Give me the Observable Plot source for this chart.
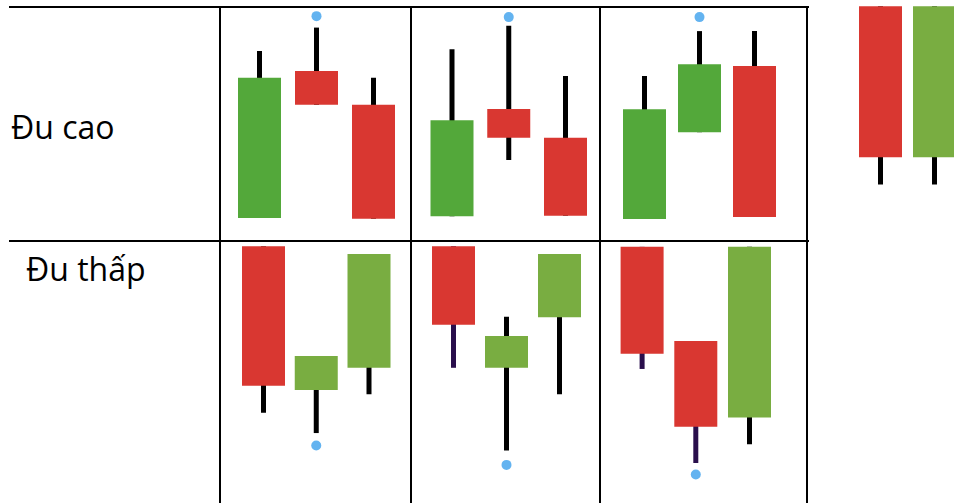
<!DOCTYPE html>
<html><head><meta charset="utf-8">
<script src="https://cdn.jsdelivr.net/npm/d3@7"></script>
<script src="https://cdn.jsdelivr.net/npm/@observablehq/plot@0.6"></script>
<style>
html,body{margin:0;padding:0;background:#fff;overflow:hidden;}
#page{position:relative;width:954px;height:503px;overflow:hidden;font-family:"Open Sans",sans-serif;}
.cell{position:absolute;}
.line{position:absolute;background:#000;}
.label{position:absolute;font-size:32px;line-height:32px;color:#000;white-space:nowrap;}
</style></head><body><div id="page"></div>
<script>
// ---------------- DATA ----------------
const rowLabels = ["Đu cao", "Đu thấp"];
const candles = [0, 1, 2];
// Đu cao: one inner array per pattern (3 patterns), 3 candles each (price units)
const caoOpen  = [[9.8, 72.6, 58.2], [10.6, 56.4, 44.1], [9.4, 46.5, 74.8]];
const caoClose = [[69.8, 58.2, 9.5], [51.6, 44.1, 10.8], [56.3, 75.5, 10.3]];
const caoHigh  = [[81.2, 91.2, 69.8], [81.9, 92.0, 70.5], [70.5, 89.7, 89.7]];
const caoLow   = [[9.8, 58.2, 9.5], [10.6, 34.6, 10.8], [9.4, 46.5, 10.3]];
const caoMarkCandle = [1, 1, 1];
const caoMarkValue  = [96.3, 95.9, 95.9];
// Đu thấp
const thapOpen  = [[109.8, 48.3, 57.8], [109.8, 57.8, 79.4], [109.5, 69.2, 36.5]];
const thapClose = [[50.1, 62.8, 106.4], [76.2, 71.4, 106.4], [63.8, 32.6, 109.5]];
const thapHigh  = [[109.8, 62.8, 106.4], [109.8, 79.6, 106.4], [109.5, 69.2, 109.5]];
const thapLow   = [[38.6, 29.9, 46.5], [57.8, 22.4, 46.5], [57.3, 17.1, 25.1]];
const thapMarkCandle = [1, 1, 1];
const thapMarkValue  = [24.8, 16.5, 12.4];
// side candles (right of the table)
const sideCandles = [0, 1];
const sideOpen  = [100.3, 35.8];
const sideClose = [35.8, 100.3];
const sideHigh  = [100.3, 100.3];
const sideLow   = [24.2, 24.2];

// ---------------- STYLE / LAYOUT ----------------
const RED = "#d93731", GREEN_A = "#53a83a", GREEN_B = "#79ad41";
const WICK = "#000000", WICK_DARK = "#2a0f4c", DOT = "#63b3f0";
const colEdges = [220, 411, 600, 807];
const rowTops = [7, 241], rowHeights = [234, 262], rowYMax = [100, 112];
const cellMargins = [
  [[39, 38], [40.5, 35], [44, 53]],
  [[43, 42.5], [42, 41], [41.6, 58]]
];
const thapDarkWick = [[1, 0], [2, 0], [2, 1]];

const page = document.getElementById("page");

function makeCandles(open, close, high, low, idx) {
  return idx.map((i) => ({i, open: open[i], close: close[i], high: high[i], low: low[i]}));
}

function candlePlot({data, marks = [], width, height, ml, mr, yMax, green, wickColor}) {
  return Plot.plot({
    width, height, marginTop: 0, marginBottom: 0, marginLeft: ml, marginRight: mr,
    x: {domain: [0, data.length - 1], axis: null},
    y: {domain: [0, yMax], axis: null},
    color: {type: "identity"},
    style: {background: "transparent", overflow: "visible"},
    marks: [
      Plot.ruleX(data, {x: "i", y1: "low", y2: "high", stroke: wickColor, strokeWidth: 5}),
      Plot.ruleX(data, {x: "i", y1: "open", y2: "close", stroke: (d) => d.close > d.open ? green : RED, strokeWidth: 43, strokeLinecap: "butt"}),
      ...marks
    ]
  });
}

function place(el, left, top) {
  const wrap = document.createElement("div");
  wrap.className = "cell";
  wrap.style.left = left + "px";
  wrap.style.top = top + "px";
  wrap.appendChild(el);
  page.appendChild(wrap);
}

const rowsData = [
  {open: caoOpen, close: caoClose, high: caoHigh, low: caoLow, mc: caoMarkCandle, mv: caoMarkValue, green: GREEN_A},
  {open: thapOpen, close: thapClose, high: thapHigh, low: thapLow, mc: thapMarkCandle, mv: thapMarkValue, green: GREEN_B}
];

rowsData.forEach((R, r) => {
  for (let p = 0; p < 3; p++) {
    const data = makeCandles(R.open[p], R.close[p], R.high[p], R.low[p], candles);
    const width = colEdges[p + 1] - colEdges[p];
    const [ml, mr] = cellMargins[r][p];
    const chart = candlePlot({
      data, width, height: rowHeights[r], ml, mr, yMax: rowYMax[r], green: R.green,
      wickColor: (d) => (r === 1 && thapDarkWick.some(([pp, cc]) => pp === p && cc === d.i)) ? WICK_DARK : WICK,
      marks: [Plot.dot([{i: R.mc[p], v: R.mv[p]}], {x: "i", y: "v", r: 5, fill: DOT, stroke: "none"})]
    });
    place(chart, colEdges[p], rowTops[r]);
  }
});

// side candles
const side = candlePlot({
  data: makeCandles(sideOpen, sideClose, sideHigh, sideLow, sideCandles),
  width: 134, height: 241, ml: 60, mr: 20, yMax: 103, green: GREEN_B, wickColor: WICK
});
place(side, 820, 0);

// table lines
function line(left, top, w, h) {
  const d = document.createElement("div");
  d.className = "line";
  Object.assign(d.style, {left: left + "px", top: top + "px", width: w + "px", height: h + "px"});
  page.appendChild(d);
}
line(9, 6.25, 799.5, 1.5);
line(9, 240.25, 799.5, 1.5);
colEdges.forEach((x) => line(x - 0.75, 6.25, 1.5, 500));

// row labels
const labelPos = [[11, 110.6], [26, 253.3]];
rowLabels.forEach((t, i) => {
  const d = document.createElement("div");
  d.className = "label";
  d.textContent = t;
  d.style.left = labelPos[i][0] + "px";
  d.style.top = labelPos[i][1] + "px";
  page.appendChild(d);
});
</script></body></html>
